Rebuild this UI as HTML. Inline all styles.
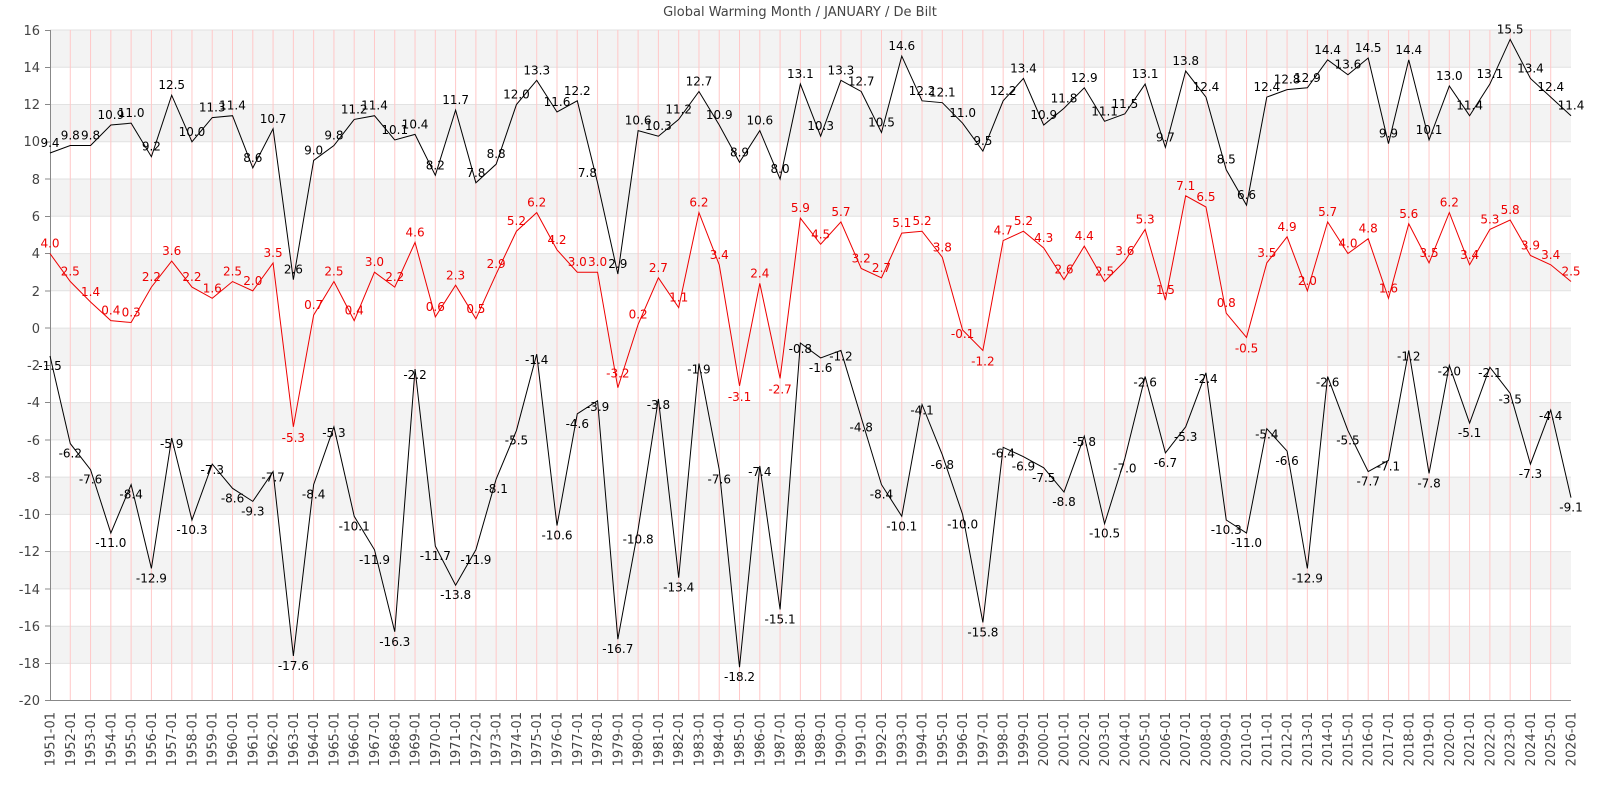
<!DOCTYPE html>
<html><head><meta charset="utf-8"><style>
body{margin:0;background:#fff}
svg{display:block;font-family:"DejaVu Sans","Liberation Sans",sans-serif}
.l text{font-size:12px;text-anchor:middle;fill:#000}
.l .r{fill:#e00}
.ax text{font-size:13px;fill:#444}
</style></head><body>
<svg width="1600" height="800" viewBox="0 0 1600 800">
<text x="800" y="16" text-anchor="middle" font-size="13" fill="#444">Global Warming Month / JANUARY / De Bilt</text>
<g fill="#f3f3f3">
<rect x="50" y="30" width="1521" height="37.3"/>
<rect x="50" y="104.5" width="1521" height="37.3"/>
<rect x="50" y="179" width="1521" height="37.3"/>
<rect x="50" y="253.6" width="1521" height="37.3"/>
<rect x="50" y="328.1" width="1521" height="37.3"/>
<rect x="50" y="402.6" width="1521" height="37.3"/>
<rect x="50" y="477.1" width="1521" height="37.3"/>
<rect x="50" y="551.6" width="1521" height="37.3"/>
<rect x="50" y="626.2" width="1521" height="37.3"/>
</g>
<g stroke="#e2e2e2" stroke-width="1">
<path d="M50 30H1571M50 67.3H1571M50 104.5H1571M50 141.8H1571M50 179H1571M50 216.3H1571M50 253.6H1571M50 290.8H1571M50 328.1H1571M50 365.4H1571M50 402.6H1571M50 439.9H1571M50 477.1H1571M50 514.4H1571M50 551.6H1571M50 588.9H1571M50 626.2H1571M50 663.4H1571"/>
</g>
<g transform="translate(50,0)">
<path stroke="#ffc8c8" stroke-width="1" fill="none" d="M20.28 30V700M40.56 30V700M60.84 30V700M81.12 30V700M101.4 30V700M121.68 30V700M141.96 30V700M162.24 30V700M182.52 30V700M202.8 30V700M223.08 30V700M243.36 30V700M263.64 30V700M283.92 30V700M304.2 30V700M324.48 30V700M344.76 30V700M365.04 30V700M385.32 30V700M405.6 30V700M425.88 30V700M446.16 30V700M466.44 30V700M486.72 30V700M507 30V700M527.28 30V700M547.56 30V700M567.84 30V700M588.12 30V700M608.4 30V700M628.68 30V700M648.96 30V700M669.24 30V700M689.52 30V700M709.8 30V700M730.08 30V700M750.36 30V700M770.64 30V700M790.92 30V700M811.2 30V700M831.48 30V700M851.76 30V700M872.04 30V700M892.32 30V700M912.6 30V700M932.88 30V700M953.16 30V700M973.44 30V700M993.72 30V700M1014 30V700M1034.28 30V700M1054.56 30V700M1074.84 30V700M1095.12 30V700M1115.4 30V700M1135.68 30V700M1155.96 30V700M1176.24 30V700M1196.52 30V700M1216.8 30V700M1237.08 30V700M1257.36 30V700M1277.64 30V700M1297.92 30V700M1318.2 30V700M1338.48 30V700M1358.76 30V700M1379.04 30V700M1399.32 30V700M1419.6 30V700M1439.88 30V700M1460.16 30V700M1480.44 30V700M1500.72 30V700"/>
</g>
<g class="ax">
<path d="M50.5 30V700.5H1571" stroke="#888" fill="none"/>
<path d="M45 30.5H50M45 67.5H50M45 104.5H50M45 142H50M45 179H50M45 216.5H50M45 253.5H50M45 291H50M45 328H50M45 365.5H50M45 402.5H50M45 440H50M45 477H50M45 514.5H50M45 551.5H50M45 589H50M45 626H50M45 663.5H50M45 700.5H50" stroke="#888"/>
<g text-anchor="end">
<text x="40" y="35">16</text><text x="40" y="72">14</text><text x="40" y="109">12</text><text x="40" y="146">10</text><text x="40" y="184">8</text><text x="40" y="221">6</text><text x="40" y="258">4</text><text x="40" y="296">2</text><text x="40" y="333">0</text><text x="40" y="370">-2</text><text x="40" y="407">-4</text><text x="40" y="445">-6</text><text x="40" y="482">-8</text><text x="40" y="519">-10</text><text x="40" y="556">-12</text><text x="40" y="594">-14</text><text x="40" y="631">-16</text><text x="40" y="668">-18</text><text x="40" y="705">-20</text>
</g>
<g text-anchor="end" font-size="12">
<text transform="translate(54.5,712)rotate(-90)">1951-01</text>
<text transform="translate(74.8,712)rotate(-90)">1952-01</text>
<text transform="translate(95.1,712)rotate(-90)">1953-01</text>
<text transform="translate(115.3,712)rotate(-90)">1954-01</text>
<text transform="translate(135.6,712)rotate(-90)">1955-01</text>
<text transform="translate(155.9,712)rotate(-90)">1956-01</text>
<text transform="translate(176.2,712)rotate(-90)">1957-01</text>
<text transform="translate(196.5,712)rotate(-90)">1958-01</text>
<text transform="translate(216.7,712)rotate(-90)">1959-01</text>
<text transform="translate(237,712)rotate(-90)">1960-01</text>
<text transform="translate(257.3,712)rotate(-90)">1961-01</text>
<text transform="translate(277.6,712)rotate(-90)">1962-01</text>
<text transform="translate(297.9,712)rotate(-90)">1963-01</text>
<text transform="translate(318.1,712)rotate(-90)">1964-01</text>
<text transform="translate(338.4,712)rotate(-90)">1965-01</text>
<text transform="translate(358.7,712)rotate(-90)">1966-01</text>
<text transform="translate(379,712)rotate(-90)">1967-01</text>
<text transform="translate(399.3,712)rotate(-90)">1968-01</text>
<text transform="translate(419.5,712)rotate(-90)">1969-01</text>
<text transform="translate(439.8,712)rotate(-90)">1970-01</text>
<text transform="translate(460.1,712)rotate(-90)">1971-01</text>
<text transform="translate(480.4,712)rotate(-90)">1972-01</text>
<text transform="translate(500.7,712)rotate(-90)">1973-01</text>
<text transform="translate(520.9,712)rotate(-90)">1974-01</text>
<text transform="translate(541.2,712)rotate(-90)">1975-01</text>
<text transform="translate(561.5,712)rotate(-90)">1976-01</text>
<text transform="translate(581.8,712)rotate(-90)">1977-01</text>
<text transform="translate(602.1,712)rotate(-90)">1978-01</text>
<text transform="translate(622.3,712)rotate(-90)">1979-01</text>
<text transform="translate(642.6,712)rotate(-90)">1980-01</text>
<text transform="translate(662.9,712)rotate(-90)">1981-01</text>
<text transform="translate(683.2,712)rotate(-90)">1982-01</text>
<text transform="translate(703.5,712)rotate(-90)">1983-01</text>
<text transform="translate(723.7,712)rotate(-90)">1984-01</text>
<text transform="translate(744,712)rotate(-90)">1985-01</text>
<text transform="translate(764.3,712)rotate(-90)">1986-01</text>
<text transform="translate(784.6,712)rotate(-90)">1987-01</text>
<text transform="translate(804.9,712)rotate(-90)">1988-01</text>
<text transform="translate(825.1,712)rotate(-90)">1989-01</text>
<text transform="translate(845.4,712)rotate(-90)">1990-01</text>
<text transform="translate(865.7,712)rotate(-90)">1991-01</text>
<text transform="translate(886,712)rotate(-90)">1992-01</text>
<text transform="translate(906.3,712)rotate(-90)">1993-01</text>
<text transform="translate(926.5,712)rotate(-90)">1994-01</text>
<text transform="translate(946.8,712)rotate(-90)">1995-01</text>
<text transform="translate(967.1,712)rotate(-90)">1996-01</text>
<text transform="translate(987.4,712)rotate(-90)">1997-01</text>
<text transform="translate(1007.7,712)rotate(-90)">1998-01</text>
<text transform="translate(1027.9,712)rotate(-90)">1999-01</text>
<text transform="translate(1048.2,712)rotate(-90)">2000-01</text>
<text transform="translate(1068.5,712)rotate(-90)">2001-01</text>
<text transform="translate(1088.8,712)rotate(-90)">2002-01</text>
<text transform="translate(1109.1,712)rotate(-90)">2003-01</text>
<text transform="translate(1129.3,712)rotate(-90)">2004-01</text>
<text transform="translate(1149.6,712)rotate(-90)">2005-01</text>
<text transform="translate(1169.9,712)rotate(-90)">2006-01</text>
<text transform="translate(1190.2,712)rotate(-90)">2007-01</text>
<text transform="translate(1210.5,712)rotate(-90)">2008-01</text>
<text transform="translate(1230.7,712)rotate(-90)">2009-01</text>
<text transform="translate(1251,712)rotate(-90)">2010-01</text>
<text transform="translate(1271.3,712)rotate(-90)">2011-01</text>
<text transform="translate(1291.6,712)rotate(-90)">2012-01</text>
<text transform="translate(1311.9,712)rotate(-90)">2013-01</text>
<text transform="translate(1332.1,712)rotate(-90)">2014-01</text>
<text transform="translate(1352.4,712)rotate(-90)">2015-01</text>
<text transform="translate(1372.7,712)rotate(-90)">2016-01</text>
<text transform="translate(1393,712)rotate(-90)">2017-01</text>
<text transform="translate(1413.3,712)rotate(-90)">2018-01</text>
<text transform="translate(1433.5,712)rotate(-90)">2019-01</text>
<text transform="translate(1453.8,712)rotate(-90)">2020-01</text>
<text transform="translate(1474.1,712)rotate(-90)">2021-01</text>
<text transform="translate(1494.4,712)rotate(-90)">2022-01</text>
<text transform="translate(1514.7,712)rotate(-90)">2023-01</text>
<text transform="translate(1534.9,712)rotate(-90)">2024-01</text>
<text transform="translate(1555.2,712)rotate(-90)">2025-01</text>
<text transform="translate(1575.5,712)rotate(-90)">2026-01</text>
</g>
</g>
<g transform="translate(50,328.1) scale(20.28,-18.63)" fill="none" stroke-width="1">
<polyline vector-effect="non-scaling-stroke" stroke="#000" points="0,9.4 1,9.8 2,9.8 3,10.9 4,11 5,9.2 6,12.5 7,10 8,11.3 9,11.4 10,8.6 11,10.7 12,2.6 13,9 14,9.8 15,11.2 16,11.4 17,10.1 18,10.4 19,8.2 20,11.7 21,7.8 22,8.8 23,12 24,13.3 25,11.6 26,12.2 27,7.8 28,2.9 29,10.6 30,10.3 31,11.2 32,12.7 33,10.9 34,8.9 35,10.6 36,8 37,13.1 38,10.3 39,13.3 40,12.7 41,10.5 42,14.6 43,12.2 44,12.1 45,11 46,9.5 47,12.2 48,13.4 49,10.9 50,11.8 51,12.9 52,11.1 53,11.5 54,13.1 55,9.7 56,13.8 57,12.4 58,8.5 59,6.6 60,12.4 61,12.8 62,12.9 63,14.4 64,13.6 65,14.5 66,9.9 67,14.4 68,10.1 69,13 70,11.4 71,13.1 72,15.5 73,13.4 74,12.4 75,11.4"/>
<polyline vector-effect="non-scaling-stroke" stroke="#e00" points="0,4 1,2.5 2,1.4 3,0.4 4,0.3 5,2.2 6,3.6 7,2.2 8,1.6 9,2.5 10,2 11,3.5 12,-5.3 13,0.7 14,2.5 15,0.4 16,3 17,2.2 18,4.6 19,0.6 20,2.3 21,0.5 22,2.9 23,5.2 24,6.2 25,4.2 26,3 27,3 28,-3.2 29,0.2 30,2.7 31,1.1 32,6.2 33,3.4 34,-3.1 35,2.4 36,-2.7 37,5.9 38,4.5 39,5.7 40,3.2 41,2.7 42,5.1 43,5.2 44,3.8 45,-0.1 46,-1.2 47,4.7 48,5.2 49,4.3 50,2.6 51,4.4 52,2.5 53,3.6 54,5.3 55,1.5 56,7.1 57,6.5 58,0.8 59,-0.5 60,3.5 61,4.9 62,2 63,5.7 64,4 65,4.8 66,1.6 67,5.6 68,3.5 69,6.2 70,3.4 71,5.3 72,5.8 73,3.9 74,3.4 75,2.5"/>
<polyline vector-effect="non-scaling-stroke" stroke="#000" points="0,-1.5 1,-6.2 2,-7.6 3,-11 4,-8.4 5,-12.9 6,-5.9 7,-10.3 8,-7.3 9,-8.6 10,-9.3 11,-7.7 12,-17.6 13,-8.4 14,-5.3 15,-10.1 16,-11.9 17,-16.3 18,-2.2 19,-11.7 20,-13.8 21,-11.9 22,-8.1 23,-5.5 24,-1.4 25,-10.6 26,-4.6 27,-3.9 28,-16.7 29,-10.8 30,-3.8 31,-13.4 32,-1.9 33,-7.6 34,-18.2 35,-7.4 36,-15.1 37,-0.8 38,-1.6 39,-1.2 40,-4.8 41,-8.4 42,-10.1 43,-4.1 44,-6.8 45,-10 46,-15.8 47,-6.4 48,-6.9 49,-7.5 50,-8.8 51,-5.8 52,-10.5 53,-7 54,-2.6 55,-6.7 56,-5.3 57,-2.4 58,-10.3 59,-11 60,-5.4 61,-6.6 62,-12.9 63,-2.6 64,-5.5 65,-7.7 66,-7.1 67,-1.2 68,-7.8 69,-2 70,-5.1 71,-2.1 72,-3.5 73,-7.3 74,-4.4 75,-9.1"/>
</g>
<g class="l" transform="translate(50,328.1) scale(20.28,-18.63)">
<g>
<text transform="translate(0,9.4)scale(.04931,-.05368)" y="-6">9.4</text>
<text transform="translate(1,9.8)scale(.04931,-.05368)" y="-6">9.8</text>
<text transform="translate(2,9.8)scale(.04931,-.05368)" y="-6">9.8</text>
<text transform="translate(3,10.9)scale(.04931,-.05368)" y="-6">10.9</text>
<text transform="translate(4,11)scale(.04931,-.05368)" y="-6">11.0</text>
<text transform="translate(5,9.2)scale(.04931,-.05368)" y="-6">9.2</text>
<text transform="translate(6,12.5)scale(.04931,-.05368)" y="-6">12.5</text>
<text transform="translate(7,10)scale(.04931,-.05368)" y="-6">10.0</text>
<text transform="translate(8,11.3)scale(.04931,-.05368)" y="-6">11.3</text>
<text transform="translate(9,11.4)scale(.04931,-.05368)" y="-6">11.4</text>
<text transform="translate(10,8.6)scale(.04931,-.05368)" y="-6">8.6</text>
<text transform="translate(11,10.7)scale(.04931,-.05368)" y="-6">10.7</text>
<text transform="translate(12,2.6)scale(.04931,-.05368)" y="-6">2.6</text>
<text transform="translate(13,9)scale(.04931,-.05368)" y="-6">9.0</text>
<text transform="translate(14,9.8)scale(.04931,-.05368)" y="-6">9.8</text>
<text transform="translate(15,11.2)scale(.04931,-.05368)" y="-6">11.2</text>
<text transform="translate(16,11.4)scale(.04931,-.05368)" y="-6">11.4</text>
<text transform="translate(17,10.1)scale(.04931,-.05368)" y="-6">10.1</text>
<text transform="translate(18,10.4)scale(.04931,-.05368)" y="-6">10.4</text>
<text transform="translate(19,8.2)scale(.04931,-.05368)" y="-6">8.2</text>
<text transform="translate(20,11.7)scale(.04931,-.05368)" y="-6">11.7</text>
<text transform="translate(21,7.8)scale(.04931,-.05368)" y="-6">7.8</text>
<text transform="translate(22,8.8)scale(.04931,-.05368)" y="-6">8.8</text>
<text transform="translate(23,12)scale(.04931,-.05368)" y="-6">12.0</text>
<text transform="translate(24,13.3)scale(.04931,-.05368)" y="-6">13.3</text>
<text transform="translate(25,11.6)scale(.04931,-.05368)" y="-6">11.6</text>
<text transform="translate(26,12.2)scale(.04931,-.05368)" y="-6">12.2</text>
<text transform="translate(26.5,7.8)scale(.04931,-.05368)" y="-6">7.8</text>
<text transform="translate(28,2.9)scale(.04931,-.05368)" y="-6">2.9</text>
<text transform="translate(29,10.6)scale(.04931,-.05368)" y="-6">10.6</text>
<text transform="translate(30,10.3)scale(.04931,-.05368)" y="-6">10.3</text>
<text transform="translate(31,11.2)scale(.04931,-.05368)" y="-6">11.2</text>
<text transform="translate(32,12.7)scale(.04931,-.05368)" y="-6">12.7</text>
<text transform="translate(33,10.9)scale(.04931,-.05368)" y="-6">10.9</text>
<text transform="translate(34,8.9)scale(.04931,-.05368)" y="-6">8.9</text>
<text transform="translate(35,10.6)scale(.04931,-.05368)" y="-6">10.6</text>
<text transform="translate(36,8)scale(.04931,-.05368)" y="-6">8.0</text>
<text transform="translate(37,13.1)scale(.04931,-.05368)" y="-6">13.1</text>
<text transform="translate(38,10.3)scale(.04931,-.05368)" y="-6">10.3</text>
<text transform="translate(39,13.3)scale(.04931,-.05368)" y="-6">13.3</text>
<text transform="translate(40,12.7)scale(.04931,-.05368)" y="-6">12.7</text>
<text transform="translate(41,10.5)scale(.04931,-.05368)" y="-6">10.5</text>
<text transform="translate(42,14.6)scale(.04931,-.05368)" y="-6">14.6</text>
<text transform="translate(43,12.2)scale(.04931,-.05368)" y="-6">12.2</text>
<text transform="translate(44,12.1)scale(.04931,-.05368)" y="-6">12.1</text>
<text transform="translate(45,11)scale(.04931,-.05368)" y="-6">11.0</text>
<text transform="translate(46,9.5)scale(.04931,-.05368)" y="-6">9.5</text>
<text transform="translate(47,12.2)scale(.04931,-.05368)" y="-6">12.2</text>
<text transform="translate(48,13.4)scale(.04931,-.05368)" y="-6">13.4</text>
<text transform="translate(49,10.9)scale(.04931,-.05368)" y="-6">10.9</text>
<text transform="translate(50,11.8)scale(.04931,-.05368)" y="-6">11.8</text>
<text transform="translate(51,12.9)scale(.04931,-.05368)" y="-6">12.9</text>
<text transform="translate(52,11.1)scale(.04931,-.05368)" y="-6">11.1</text>
<text transform="translate(53,11.5)scale(.04931,-.05368)" y="-6">11.5</text>
<text transform="translate(54,13.1)scale(.04931,-.05368)" y="-6">13.1</text>
<text transform="translate(55,9.7)scale(.04931,-.05368)" y="-6">9.7</text>
<text transform="translate(56,13.8)scale(.04931,-.05368)" y="-6">13.8</text>
<text transform="translate(57,12.4)scale(.04931,-.05368)" y="-6">12.4</text>
<text transform="translate(58,8.5)scale(.04931,-.05368)" y="-6">8.5</text>
<text transform="translate(59,6.6)scale(.04931,-.05368)" y="-6">6.6</text>
<text transform="translate(60,12.4)scale(.04931,-.05368)" y="-6">12.4</text>
<text transform="translate(61,12.8)scale(.04931,-.05368)" y="-6">12.8</text>
<text transform="translate(62,12.9)scale(.04931,-.05368)" y="-6">12.9</text>
<text transform="translate(63,14.4)scale(.04931,-.05368)" y="-6">14.4</text>
<text transform="translate(64,13.6)scale(.04931,-.05368)" y="-6">13.6</text>
<text transform="translate(65,14.5)scale(.04931,-.05368)" y="-6">14.5</text>
<text transform="translate(66,9.9)scale(.04931,-.05368)" y="-6">9.9</text>
<text transform="translate(67,14.4)scale(.04931,-.05368)" y="-6">14.4</text>
<text transform="translate(68,10.1)scale(.04931,-.05368)" y="-6">10.1</text>
<text transform="translate(69,13)scale(.04931,-.05368)" y="-6">13.0</text>
<text transform="translate(70,11.4)scale(.04931,-.05368)" y="-6">11.4</text>
<text transform="translate(71,13.1)scale(.04931,-.05368)" y="-6">13.1</text>
<text transform="translate(72,15.5)scale(.04931,-.05368)" y="-6">15.5</text>
<text transform="translate(73,13.4)scale(.04931,-.05368)" y="-6">13.4</text>
<text transform="translate(74,12.4)scale(.04931,-.05368)" y="-6">12.4</text>
<text transform="translate(75,11.4)scale(.04931,-.05368)" y="-6">11.4</text>
</g>
<g>
<text class="r" transform="translate(0,4)scale(.04931,-.05368)" y="-6">4.0</text>
<text class="r" transform="translate(1,2.5)scale(.04931,-.05368)" y="-6">2.5</text>
<text class="r" transform="translate(2,1.4)scale(.04931,-.05368)" y="-6">1.4</text>
<text class="r" transform="translate(3,0.4)scale(.04931,-.05368)" y="-6">0.4</text>
<text class="r" transform="translate(4,0.3)scale(.04931,-.05368)" y="-6">0.3</text>
<text class="r" transform="translate(5,2.2)scale(.04931,-.05368)" y="-6">2.2</text>
<text class="r" transform="translate(6,3.6)scale(.04931,-.05368)" y="-6">3.6</text>
<text class="r" transform="translate(7,2.2)scale(.04931,-.05368)" y="-6">2.2</text>
<text class="r" transform="translate(8,1.6)scale(.04931,-.05368)" y="-6">1.6</text>
<text class="r" transform="translate(9,2.5)scale(.04931,-.05368)" y="-6">2.5</text>
<text class="r" transform="translate(10,2)scale(.04931,-.05368)" y="-6">2.0</text>
<text class="r" transform="translate(11,3.5)scale(.04931,-.05368)" y="-6">3.5</text>
<text class="r" transform="translate(12,-5.3)scale(.04931,-.05368)" y="15">-5.3</text>
<text class="r" transform="translate(13,0.7)scale(.04931,-.05368)" y="-6">0.7</text>
<text class="r" transform="translate(14,2.5)scale(.04931,-.05368)" y="-6">2.5</text>
<text class="r" transform="translate(15,0.4)scale(.04931,-.05368)" y="-6">0.4</text>
<text class="r" transform="translate(16,3)scale(.04931,-.05368)" y="-6">3.0</text>
<text class="r" transform="translate(17,2.2)scale(.04931,-.05368)" y="-6">2.2</text>
<text class="r" transform="translate(18,4.6)scale(.04931,-.05368)" y="-6">4.6</text>
<text class="r" transform="translate(19,0.6)scale(.04931,-.05368)" y="-6">0.6</text>
<text class="r" transform="translate(20,2.3)scale(.04931,-.05368)" y="-6">2.3</text>
<text class="r" transform="translate(21,0.5)scale(.04931,-.05368)" y="-6">0.5</text>
<text class="r" transform="translate(22,2.9)scale(.04931,-.05368)" y="-6">2.9</text>
<text class="r" transform="translate(23,5.2)scale(.04931,-.05368)" y="-6">5.2</text>
<text class="r" transform="translate(24,6.2)scale(.04931,-.05368)" y="-6">6.2</text>
<text class="r" transform="translate(25,4.2)scale(.04931,-.05368)" y="-6">4.2</text>
<text class="r" transform="translate(26,3)scale(.04931,-.05368)" y="-6">3.0</text>
<text class="r" transform="translate(27,3)scale(.04931,-.05368)" y="-6">3.0</text>
<text class="r" transform="translate(28,-3.2)scale(.04931,-.05368)" y="-10">-3.2</text>
<text class="r" transform="translate(29,0.2)scale(.04931,-.05368)" y="-6">0.2</text>
<text class="r" transform="translate(30,2.7)scale(.04931,-.05368)" y="-6">2.7</text>
<text class="r" transform="translate(31,1.1)scale(.04931,-.05368)" y="-6">1.1</text>
<text class="r" transform="translate(32,6.2)scale(.04931,-.05368)" y="-6">6.2</text>
<text class="r" transform="translate(33,3.4)scale(.04931,-.05368)" y="-6">3.4</text>
<text class="r" transform="translate(34,-3.1)scale(.04931,-.05368)" y="15">-3.1</text>
<text class="r" transform="translate(35,2.4)scale(.04931,-.05368)" y="-6">2.4</text>
<text class="r" transform="translate(36,-2.7)scale(.04931,-.05368)" y="15">-2.7</text>
<text class="r" transform="translate(37,5.9)scale(.04931,-.05368)" y="-6">5.9</text>
<text class="r" transform="translate(38,4.5)scale(.04931,-.05368)" y="-6">4.5</text>
<text class="r" transform="translate(39,5.7)scale(.04931,-.05368)" y="-6">5.7</text>
<text class="r" transform="translate(40,3.2)scale(.04931,-.05368)" y="-6">3.2</text>
<text class="r" transform="translate(41,2.7)scale(.04931,-.05368)" y="-6">2.7</text>
<text class="r" transform="translate(42,5.1)scale(.04931,-.05368)" y="-6">5.1</text>
<text class="r" transform="translate(43,5.2)scale(.04931,-.05368)" y="-6">5.2</text>
<text class="r" transform="translate(44,3.8)scale(.04931,-.05368)" y="-6">3.8</text>
<text class="r" transform="translate(45,-0.1)scale(.04931,-.05368)" y="8">-0.1</text>
<text class="r" transform="translate(46,-1.2)scale(.04931,-.05368)" y="15">-1.2</text>
<text class="r" transform="translate(47,4.7)scale(.04931,-.05368)" y="-6">4.7</text>
<text class="r" transform="translate(48,5.2)scale(.04931,-.05368)" y="-6">5.2</text>
<text class="r" transform="translate(49,4.3)scale(.04931,-.05368)" y="-6">4.3</text>
<text class="r" transform="translate(50,2.6)scale(.04931,-.05368)" y="-6">2.6</text>
<text class="r" transform="translate(51,4.4)scale(.04931,-.05368)" y="-6">4.4</text>
<text class="r" transform="translate(52,2.5)scale(.04931,-.05368)" y="-6">2.5</text>
<text class="r" transform="translate(53,3.6)scale(.04931,-.05368)" y="-6">3.6</text>
<text class="r" transform="translate(54,5.3)scale(.04931,-.05368)" y="-6">5.3</text>
<text class="r" transform="translate(55,1.5)scale(.04931,-.05368)" y="-6">1.5</text>
<text class="r" transform="translate(56,7.1)scale(.04931,-.05368)" y="-6">7.1</text>
<text class="r" transform="translate(57,6.5)scale(.04931,-.05368)" y="-6">6.5</text>
<text class="r" transform="translate(58,0.8)scale(.04931,-.05368)" y="-6">0.8</text>
<text class="r" transform="translate(59,-0.5)scale(.04931,-.05368)" y="15">-0.5</text>
<text class="r" transform="translate(60,3.5)scale(.04931,-.05368)" y="-6">3.5</text>
<text class="r" transform="translate(61,4.9)scale(.04931,-.05368)" y="-6">4.9</text>
<text class="r" transform="translate(62,2)scale(.04931,-.05368)" y="-6">2.0</text>
<text class="r" transform="translate(63,5.7)scale(.04931,-.05368)" y="-6">5.7</text>
<text class="r" transform="translate(64,4)scale(.04931,-.05368)" y="-6">4.0</text>
<text class="r" transform="translate(65,4.8)scale(.04931,-.05368)" y="-6">4.8</text>
<text class="r" transform="translate(66,1.6)scale(.04931,-.05368)" y="-6">1.6</text>
<text class="r" transform="translate(67,5.6)scale(.04931,-.05368)" y="-6">5.6</text>
<text class="r" transform="translate(68,3.5)scale(.04931,-.05368)" y="-6">3.5</text>
<text class="r" transform="translate(69,6.2)scale(.04931,-.05368)" y="-6">6.2</text>
<text class="r" transform="translate(70,3.4)scale(.04931,-.05368)" y="-6">3.4</text>
<text class="r" transform="translate(71,5.3)scale(.04931,-.05368)" y="-6">5.3</text>
<text class="r" transform="translate(72,5.8)scale(.04931,-.05368)" y="-6">5.8</text>
<text class="r" transform="translate(73,3.9)scale(.04931,-.05368)" y="-6">3.9</text>
<text class="r" transform="translate(74,3.4)scale(.04931,-.05368)" y="-6">3.4</text>
<text class="r" transform="translate(75,2.5)scale(.04931,-.05368)" y="-6">2.5</text>
</g>
<g>
<text transform="translate(0,-1.5)scale(.04931,-.05368)" y="14">-1.5</text>
<text transform="translate(1,-6.2)scale(.04931,-.05368)" y="14">-6.2</text>
<text transform="translate(2,-7.6)scale(.04931,-.05368)" y="14">-7.6</text>
<text transform="translate(3,-11)scale(.04931,-.05368)" y="14">-11.0</text>
<text transform="translate(4,-8.4)scale(.04931,-.05368)" y="14">-8.4</text>
<text transform="translate(5,-12.9)scale(.04931,-.05368)" y="14">-12.9</text>
<text transform="translate(6,-5.9)scale(.04931,-.05368)" y="10">-5.9</text>
<text transform="translate(7,-10.3)scale(.04931,-.05368)" y="14">-10.3</text>
<text transform="translate(8,-7.3)scale(.04931,-.05368)" y="10">-7.3</text>
<text transform="translate(9,-8.6)scale(.04931,-.05368)" y="14">-8.6</text>
<text transform="translate(10,-9.3)scale(.04931,-.05368)" y="14">-9.3</text>
<text transform="translate(11,-7.7)scale(.04931,-.05368)" y="10">-7.7</text>
<text transform="translate(12,-17.6)scale(.04931,-.05368)" y="14">-17.6</text>
<text transform="translate(13,-8.4)scale(.04931,-.05368)" y="14">-8.4</text>
<text transform="translate(14,-5.3)scale(.04931,-.05368)" y="10">-5.3</text>
<text transform="translate(15,-10.1)scale(.04931,-.05368)" y="14">-10.1</text>
<text transform="translate(16,-11.9)scale(.04931,-.05368)" y="14">-11.9</text>
<text transform="translate(17,-16.3)scale(.04931,-.05368)" y="14">-16.3</text>
<text transform="translate(18,-2.2)scale(.04931,-.05368)" y="10">-2.2</text>
<text transform="translate(19,-11.7)scale(.04931,-.05368)" y="14">-11.7</text>
<text transform="translate(20,-13.8)scale(.04931,-.05368)" y="14">-13.8</text>
<text transform="translate(21,-11.9)scale(.04931,-.05368)" y="14">-11.9</text>
<text transform="translate(22,-8.1)scale(.04931,-.05368)" y="14">-8.1</text>
<text transform="translate(23,-5.5)scale(.04931,-.05368)" y="14">-5.5</text>
<text transform="translate(24,-1.4)scale(.04931,-.05368)" y="10">-1.4</text>
<text transform="translate(25,-10.6)scale(.04931,-.05368)" y="14">-10.6</text>
<text transform="translate(26,-4.6)scale(.04931,-.05368)" y="14">-4.6</text>
<text transform="translate(27,-3.9)scale(.04931,-.05368)" y="10">-3.9</text>
<text transform="translate(28,-16.7)scale(.04931,-.05368)" y="14">-16.7</text>
<text transform="translate(29,-10.8)scale(.04931,-.05368)" y="14">-10.8</text>
<text transform="translate(30,-3.8)scale(.04931,-.05368)" y="10">-3.8</text>
<text transform="translate(31,-13.4)scale(.04931,-.05368)" y="14">-13.4</text>
<text transform="translate(32,-1.9)scale(.04931,-.05368)" y="10">-1.9</text>
<text transform="translate(33,-7.6)scale(.04931,-.05368)" y="14">-7.6</text>
<text transform="translate(34,-18.2)scale(.04931,-.05368)" y="14">-18.2</text>
<text transform="translate(35,-7.4)scale(.04931,-.05368)" y="10">-7.4</text>
<text transform="translate(36,-15.1)scale(.04931,-.05368)" y="14">-15.1</text>
<text transform="translate(37,-0.8)scale(.04931,-.05368)" y="10">-0.8</text>
<text transform="translate(38,-1.6)scale(.04931,-.05368)" y="14">-1.6</text>
<text transform="translate(39,-1.2)scale(.04931,-.05368)" y="10">-1.2</text>
<text transform="translate(40,-4.8)scale(.04931,-.05368)" y="14">-4.8</text>
<text transform="translate(41,-8.4)scale(.04931,-.05368)" y="14">-8.4</text>
<text transform="translate(42,-10.1)scale(.04931,-.05368)" y="14">-10.1</text>
<text transform="translate(43,-4.1)scale(.04931,-.05368)" y="10">-4.1</text>
<text transform="translate(44,-6.8)scale(.04931,-.05368)" y="14">-6.8</text>
<text transform="translate(45,-10)scale(.04931,-.05368)" y="14">-10.0</text>
<text transform="translate(46,-15.8)scale(.04931,-.05368)" y="14">-15.8</text>
<text transform="translate(47,-6.4)scale(.04931,-.05368)" y="10">-6.4</text>
<text transform="translate(48,-6.9)scale(.04931,-.05368)" y="14">-6.9</text>
<text transform="translate(49,-7.5)scale(.04931,-.05368)" y="14">-7.5</text>
<text transform="translate(50,-8.8)scale(.04931,-.05368)" y="14">-8.8</text>
<text transform="translate(51,-5.8)scale(.04931,-.05368)" y="10">-5.8</text>
<text transform="translate(52,-10.5)scale(.04931,-.05368)" y="14">-10.5</text>
<text transform="translate(53,-7)scale(.04931,-.05368)" y="14">-7.0</text>
<text transform="translate(54,-2.6)scale(.04931,-.05368)" y="10">-2.6</text>
<text transform="translate(55,-6.7)scale(.04931,-.05368)" y="14">-6.7</text>
<text transform="translate(56,-5.3)scale(.04931,-.05368)" y="14">-5.3</text>
<text transform="translate(57,-2.4)scale(.04931,-.05368)" y="10">-2.4</text>
<text transform="translate(58,-10.3)scale(.04931,-.05368)" y="14">-10.3</text>
<text transform="translate(59,-11)scale(.04931,-.05368)" y="14">-11.0</text>
<text transform="translate(60,-5.4)scale(.04931,-.05368)" y="10">-5.4</text>
<text transform="translate(61,-6.6)scale(.04931,-.05368)" y="14">-6.6</text>
<text transform="translate(62,-12.9)scale(.04931,-.05368)" y="14">-12.9</text>
<text transform="translate(63,-2.6)scale(.04931,-.05368)" y="10">-2.6</text>
<text transform="translate(64,-5.5)scale(.04931,-.05368)" y="14">-5.5</text>
<text transform="translate(65,-7.7)scale(.04931,-.05368)" y="14">-7.7</text>
<text transform="translate(66,-7.1)scale(.04931,-.05368)" y="10">-7.1</text>
<text transform="translate(67,-1.2)scale(.04931,-.05368)" y="10">-1.2</text>
<text transform="translate(68,-7.8)scale(.04931,-.05368)" y="14">-7.8</text>
<text transform="translate(69,-2)scale(.04931,-.05368)" y="10">-2.0</text>
<text transform="translate(70,-5.1)scale(.04931,-.05368)" y="14">-5.1</text>
<text transform="translate(71,-2.1)scale(.04931,-.05368)" y="10">-2.1</text>
<text transform="translate(72,-3.5)scale(.04931,-.05368)" y="10">-3.5</text>
<text transform="translate(73,-7.3)scale(.04931,-.05368)" y="14">-7.3</text>
<text transform="translate(74,-4.4)scale(.04931,-.05368)" y="10">-4.4</text>
<text transform="translate(75,-9.1)scale(.04931,-.05368)" y="14">-9.1</text>
</g>
</g>
</svg>
</body></html>
